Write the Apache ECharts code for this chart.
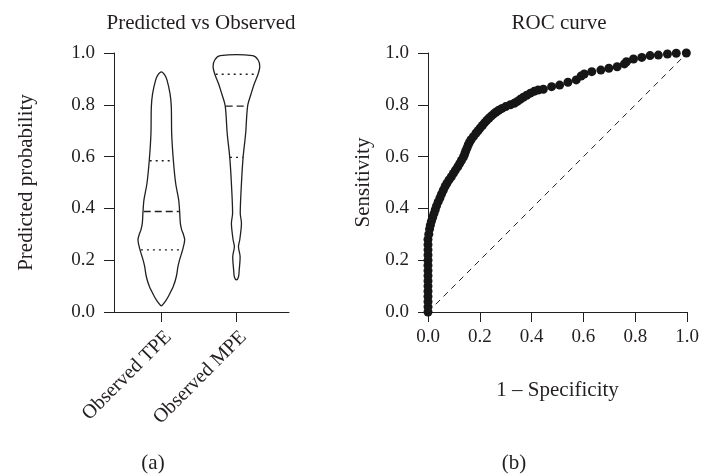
<!DOCTYPE html>
<html>
<head>
<meta charset="utf-8">
<script src="https://cdn.jsdelivr.net/npm/echarts@6/dist/echarts.min.js"></script>
<style>
  html, body { margin: 0; padding: 0; background: #fff; }
  #root { width: 702px; height: 474px; }
</style>
</head>
<body>
<div id="root"></div>
<script>
// panel (a): violin outlines, half-widths in x-axis units
var groups = ['Observed TPE', 'Observed MPE'];
var tpeY = [0.024, 0.041, 0.060, 0.099, 0.137, 0.176, 0.202, 0.246, 0.279, 0.304, 0.317, 0.343, 0.388, 0.433, 0.497, 0.587, 0.689, 0.792, 0.843, 0.895, 0.914, 0.927];
var tpeW = [0, 0.053, 0.093, 0.16, 0.2, 0.222, 0.244, 0.289, 0.311, 0.289, 0.271, 0.253, 0.244, 0.231, 0.191, 0.16, 0.138, 0.133, 0.116, 0.076, 0.049, 0];
var tpeQuart = [0.24, 0.388, 0.584];
var mpeY = [0.124, 0.135, 0.162, 0.214, 0.252, 0.278, 0.342, 0.381, 0.497, 0.597, 0.69, 0.795, 0.844, 0.883, 0.919, 0.947, 0.973, 0.990];
var mpeW = [0, 0.027, 0.037, 0.049, 0.027, 0.044, 0.067, 0.051, 0.067, 0.089, 0.123, 0.149, 0.197, 0.24, 0.289, 0.311, 0.289, 0.217];
var mpeQuart = [0.597, 0.795, 0.918];

// panel (b): ROC points
var rocFpr = [0, 0, 0, 0, 0, 0, 0, 0, 0, 0, 0, 0, 0, 0, 0,
  0.003, 0.006, 0.009, 0.013, 0.018, 0.023, 0.028, 0.033, 0.039, 0.046,
  0.052, 0.059, 0.066, 0.073, 0.081, 0.090, 0.098, 0.106, 0.115, 0.122,
  0.129, 0.136, 0.141, 0.145, 0.150, 0.155, 0.160, 0.166, 0.175, 0.185,
  0.193, 0.201, 0.210, 0.218, 0.227, 0.236, 0.245, 0.254, 0.263, 0.273,
  0.286, 0.300, 0.318, 0.333, 0.345, 0.356, 0.368, 0.381, 0.395, 0.410,
  0.425, 0.445, 0.477, 0.508, 0.540, 0.572, 0.591, 0.603, 0.632, 0.667,
  0.698, 0.730, 0.758, 0.766, 0.793, 0.825, 0.857, 0.889, 0.924, 0.958, 0.997];
var rocTpr = [0, 0.02, 0.04, 0.06, 0.08, 0.10, 0.12, 0.14, 0.16, 0.18, 0.20, 0.22, 0.24, 0.26, 0.28,
  0.30, 0.32, 0.335, 0.35, 0.365, 0.38, 0.395, 0.41, 0.425, 0.44,
  0.455, 0.47, 0.485, 0.497, 0.51, 0.522, 0.535, 0.548, 0.561, 0.573,
  0.585, 0.597, 0.608, 0.62, 0.632, 0.645, 0.655, 0.665, 0.677, 0.69,
  0.70, 0.71, 0.72, 0.73, 0.74, 0.749, 0.757, 0.765, 0.772, 0.779,
  0.786, 0.793, 0.80, 0.806, 0.813, 0.821, 0.829, 0.837, 0.845, 0.852,
  0.857, 0.860, 0.870, 0.876, 0.887, 0.896, 0.911, 0.919, 0.928, 0.934,
  0.941, 0.947, 0.958, 0.966, 0.977, 0.983, 0.99, 0.992, 0.996, 0.999, 1.0];
var refLine = [[0, 0], [1, 1]];

var ink = '#231f20';
var serif = "'Liberation Serif', 'DejaVu Serif', serif";

var violins = [
  { pos: 0, y: tpeY, w: tpeW, q: tpeQuart },
  { pos: 1, y: mpeY, w: mpeW, q: mpeQuart }
];

function widthAt(v, yy) {
  for (var i = 1; i < v.y.length; i++) {
    if (yy <= v.y[i]) {
      var t = (yy - v.y[i - 1]) / (v.y[i] - v.y[i - 1]);
      return v.w[i - 1] + t * (v.w[i] - v.w[i - 1]);
    }
  }
  return v.w[v.w.length - 1];
}

function renderViolin(params, api) {
  var v = violins[params.dataIndex];
  var right = [], left = [];
  for (var i = 0; i < v.y.length; i++) {
    right.push(api.coord([v.pos + v.w[i], v.y[i]]));
    if (v.w[i] > 0) left.push(api.coord([v.pos - v.w[i], v.y[i]]));
  }
  var pts = right.concat(left.reverse());
  var children = [{
    type: 'polygon',
    shape: { points: pts, smooth: 0.3 },
    style: { fill: 'none', stroke: ink, lineWidth: 1.3 }
  }];
  v.q.forEach(function (qy, k) {
    var hw = widthAt(v, qy) * 0.96;
    var a = api.coord([v.pos - hw, qy]);
    var b = api.coord([v.pos + hw, qy]);
    children.push({
      type: 'line',
      shape: { x1: a[0], y1: a[1], x2: b[0], y2: b[1] },
      style: { stroke: ink, lineWidth: 1.3, lineDash: k === 1 ? [7, 4] : [2, 4] }
    });
  });
  return { type: 'group', children: children };
}

var chart = echarts.init(document.getElementById('root'), null, { renderer: 'canvas' });

var axisCommon = {
  axisLine: { show: true, onZero: false, lineStyle: { color: ink, width: 1 } },
  axisTick: { show: true, length: 10, lineStyle: { color: ink, width: 1 } },
  splitLine: { show: false },
  nameTextStyle: { color: ink, fontFamily: serif, fontSize: 21 }
};

function fmt(v) { return v.toFixed(1); }

function heading(text, x, y) {
  return { text: text, left: x, top: y, textAlign: 'center', padding: 0,
    textStyle: { fontFamily: serif, fontSize: 21, fontWeight: 'normal', color: ink } };
}

var option = {
  animation: false,
  backgroundColor: '#fff',
  textStyle: { fontFamily: serif, color: ink },
  title: [
    heading('Predicted vs Observed', 201, 13),
    heading('ROC curve', 559, 13),
    heading('(a)', 153, 453),
    heading('(b)', 514, 453)
  ],
  grid: [
    { left: 114, top: 53, width: 175, height: 259 },
    { left: 428, top: 53, width: 263, height: 259 }
  ],
  xAxis: [
    Object.assign({}, axisCommon, {
      type: 'value', gridIndex: 0, min: -0.63, max: 1.7,
      axisTick: { show: true, length: 10, lineStyle: { color: ink }, customValues: [0, 1] },
      axisLabel: {
        customValues: [0, 1], rotate: 45, margin: 15, verticalAlign: 'top',
        color: ink, fontFamily: serif, fontSize: 20,
        formatter: function (v) { return groups[Math.round(v)]; }
      }
    }),
    Object.assign({}, axisCommon, {
      type: 'value', gridIndex: 1, min: 0, max: 1, interval: 0.2,
      name: '1 \u2013 Specificity', nameLocation: 'middle', nameGap: 68,
      axisLabel: { margin: 16, color: ink, fontFamily: serif, fontSize: 19, formatter: fmt }
    })
  ],
  yAxis: [
    Object.assign({}, axisCommon, {
      type: 'value', gridIndex: 0, min: 0, max: 1, interval: 0.2,
      name: 'Predicted probability', nameLocation: 'middle', nameGap: 77,
      axisLabel: { margin: 19, color: ink, fontFamily: serif, fontSize: 19, formatter: fmt }
    }),
    Object.assign({}, axisCommon, {
      type: 'value', gridIndex: 1, min: 0, max: 1, interval: 0.2,
      name: 'Sensitivity', nameLocation: 'middle', nameGap: 54,
      axisLabel: { margin: 19, color: ink, fontFamily: serif, fontSize: 19, formatter: fmt }
    })
  ],
  series: [
    {
      type: 'custom', xAxisIndex: 0, yAxisIndex: 0,
      renderItem: renderViolin,
      data: groups.map(function (g, i) { return [i, 0.5]; }),
      clip: false, silent: true
    },
    {
      type: 'line', xAxisIndex: 1, yAxisIndex: 1,
      data: refLine, symbol: 'none', silent: true,
      lineStyle: { color: ink, width: 1, type: [6, 5] }
    },
    {
      type: 'scatter', xAxisIndex: 1, yAxisIndex: 1,
      data: rocFpr.map(function (x, i) { return [x, rocTpr[i]]; }),
      symbol: 'circle', symbolSize: 9, clip: false, silent: true,
      itemStyle: { color: '#161616', opacity: 1 }
    }
  ]
};

chart.setOption(option);
</script>
</body>
</html>
